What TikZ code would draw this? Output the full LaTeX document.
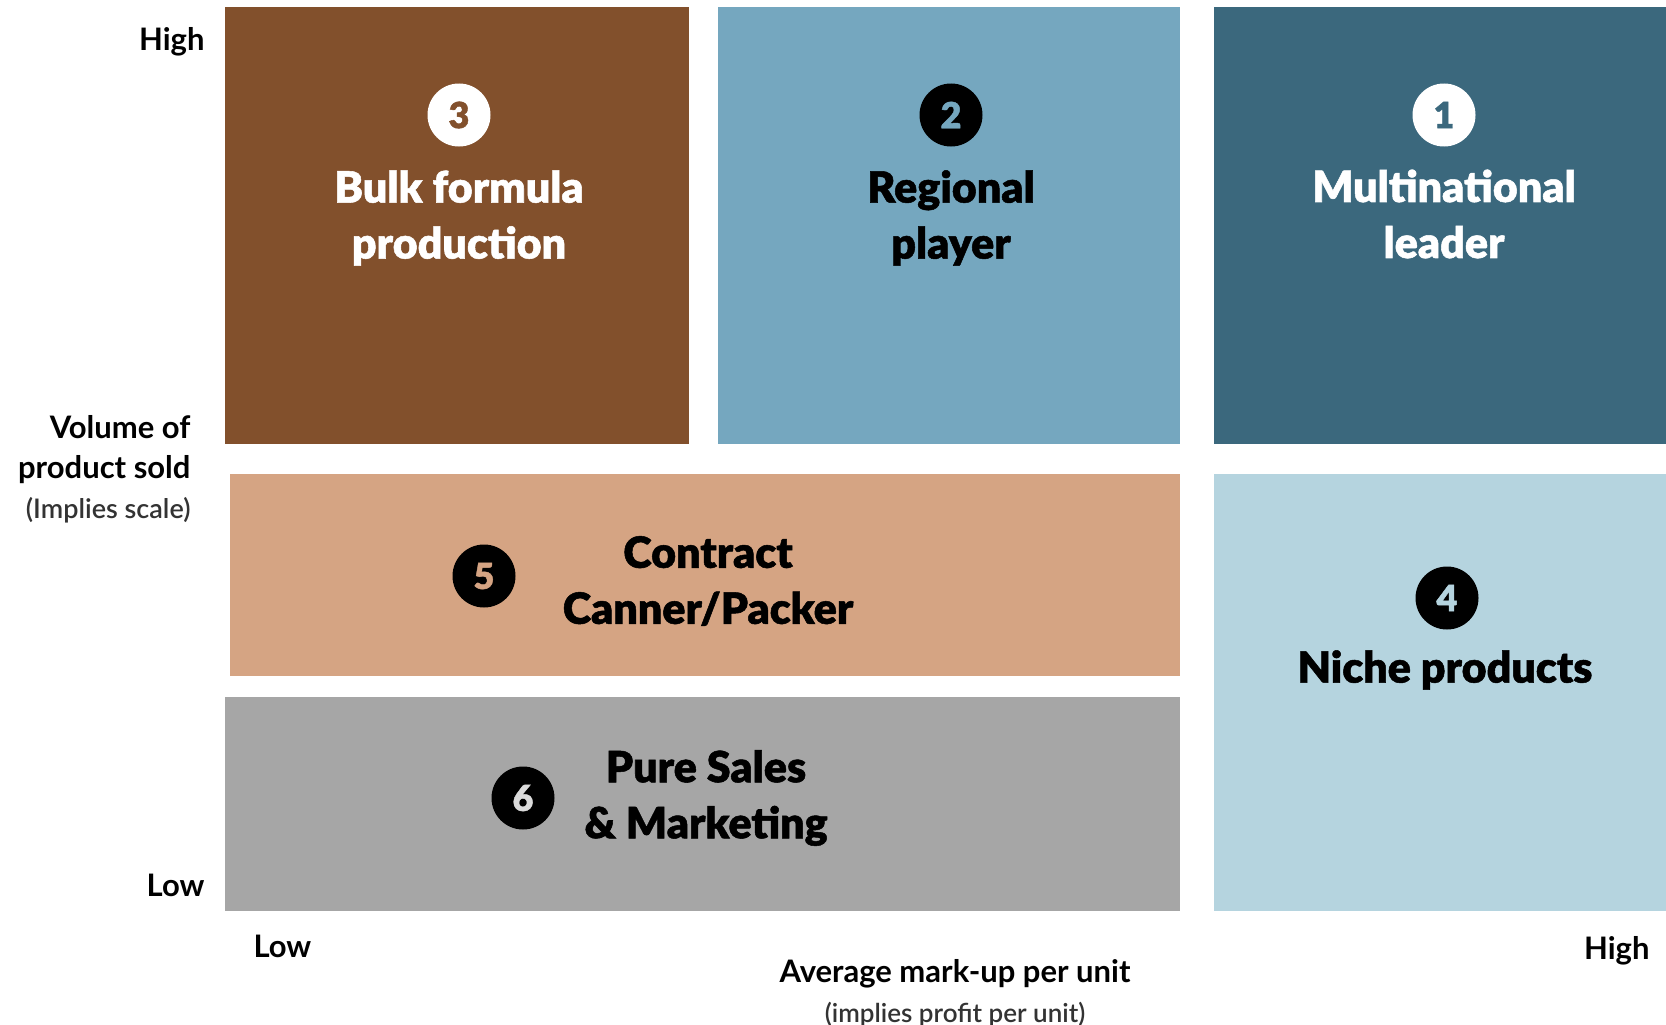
\documentclass[tikz,border=0pt]{standalone}
\usepackage{fontspec}
\setmainfont{Lato}
\newfontfamily\heavyfont{Lato Black}[FakeBold=1.2]
\newfontfamily\lightfont{Lato Light}
\definecolor{bulkBrown}{HTML}{82502C}
\definecolor{regionBlue}{HTML}{75A7BF}
\definecolor{multiBlue}{HTML}{3B687D}
\definecolor{contractTan}{HTML}{D5A483}
\definecolor{salesGrey}{HTML}{A6A6A6}
\definecolor{nicheBlue}{HTML}{B5D4DF}
\begin{document}
\begin{tikzpicture}
[x=1pt,y=-1pt,%
  boxDecorate/.style={shape=rectangle,draw=none,inner sep=0pt},
  numDecorate/.style={shape=circle,inner sep=0pt,minimum size=63pt,
    font=\heavyfont\fontsize{36}{36}\selectfont},
  titleDecorate/.style={align=center,
    font=\heavyfont\fontsize{43}{56}\selectfont},
  axisDecorate/.style={align=right,
    font=\bfseries\fontsize{31}{40}\selectfont}]
\useasboundingbox (0,0) rectangle (1666,1025);
%% boxes of the matrix
\foreach \boxname/\x/\y/\w/\h/\col in {
  bulk/457/225.5/464/437/bulkBrown, regional/949/225.5/462/437/regionBlue,
  multi/1440/225.5/452/437/multiBlue, contract/705/575/950/202/contractTan,
  sales/702.5/804/955/214/salesGrey, niche/1440/692.5/452/437/nicheBlue}
{
  \node (\boxname) at (\x,\y) [boxDecorate,fill=\col,
    minimum width=\w pt,minimum height=\h pt] {};
}
%% numbers
\foreach \numname/\x/\y/\bg/\fg/\num in {
  n3/459/115/white/bulkBrown/3, n2/951/115/black/regionBlue/2,
  n1/1444/115/white/multiBlue/1, n5/484/576/black/contractTan/5,
  n4/1447/598/black/nicheBlue/4, n6/523/798/black/salesGrey!40/6}
{
  \node (\numname) at (\x,\y) [numDecorate,fill=\bg,text=\fg] {\num};
}
%% titles
\node (t3) at (459,218) [titleDecorate,text=white] {Bulk formula\\production};
\node (t2) at (951,218) [titleDecorate] {Regional\\player};
\node (t1) at (1444,214) [titleDecorate,text=white] {Multinational\\leader};
\node (t5) at (708,581) [titleDecorate] {Contract\\Canner/Packer};
\node (t6) at (706,798) [titleDecorate] {Pure Sales\\\& Marketing};
\node (t4) at (1445,670) [titleDecorate] {Niche products};
%% axes
\node (yhigh) at (208,42) [axisDecorate,anchor=east] {High};
\node (ylow) at (208,885) [axisDecorate,anchor=east] {Low};
\node (ylabel) at (194,469) [axisDecorate,anchor=east]
  {Volume of\\product sold\\{\lightfont\color{black!80}\fontsize{27}{36}\selectfont (Implies scale)}};
\node (xlow) at (250,946) [axisDecorate,anchor=west] {Low};
\node (xhigh) at (1653,951) [axisDecorate,anchor=east] {High};
\node (xlabel) at (955,993) [axisDecorate,align=center,inner sep=1pt]
  {Average mark-up per unit\\{\lightfont\color{black!80}\fontsize{26}{34}\selectfont (implies profit per unit)}};
\end{tikzpicture}
\end{document}
